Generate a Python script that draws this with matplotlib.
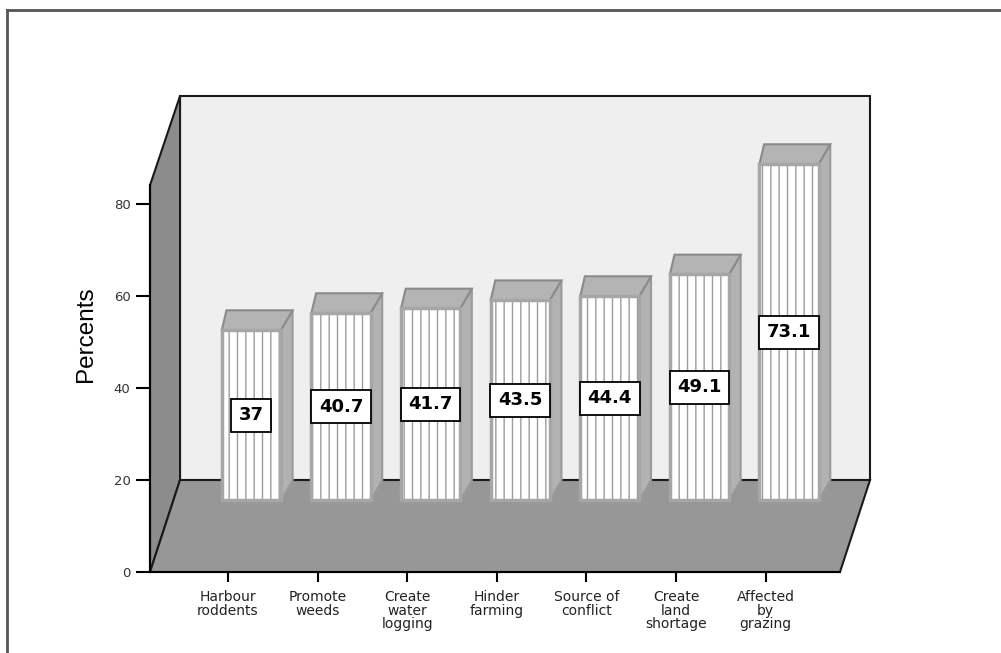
import numpy as np
import matplotlib
matplotlib.use("Agg")
import matplotlib.pyplot as plt
from matplotlib.patches import Polygon, Rectangle
from matplotlib.lines import Line2D

# data
categories = ["Harbour\nroddents", "Promote\nweeds", "Create\nwater\nlogging",
              "Hinder\nfarming", "Source of\nconflict", "Create\nland\nshortage",
              "Affected\nby\ngrazing"]
values = [37, 40.7, 41.7, 43.5, 44.4, 49.1, 73.1]
yticks = [0, 20, 40, 60, 80]

# pseudo 3d geometry (data units)
X_LEFT, X_RIGHT = -0.87, 6.83
Y_TOP = 103.5
WALL_TOP = 84.1
DEPTH_X, DEPTH_Y = 0.335, 20.0
BAR_FRAC = 0.78
BAR_W = 0.66
BAR_DX, BAR_DY = 0.13, 4.3

W, H = 1001, 653
fig = plt.figure(figsize=(W / 100, H / 100), dpi=100)
ax = fig.add_axes([150 / W, (H - 572) / H, 690 / W, 476 / H])
ax.set_xlim(X_LEFT, X_RIGHT)
ax.set_ylim(0, Y_TOP)
ax.patch.set_visible(False)

edge = '#1a1a1a'

# back wall
ax.add_patch(Rectangle((X_LEFT + DEPTH_X, DEPTH_Y), X_RIGHT - X_LEFT, Y_TOP - DEPTH_Y,
                       facecolor='#efefef', edgecolor=edge, lw=1.5, clip_on=False, zorder=1))
# left wall
ax.add_patch(Polygon([(X_LEFT, 0), (X_LEFT + DEPTH_X, DEPTH_Y), (X_LEFT + DEPTH_X, Y_TOP),
                      (X_LEFT, WALL_TOP)],
                     facecolor='#8c8c8c', edgecolor=edge, lw=1.5, clip_on=False, zorder=2))
# floor
ax.add_patch(Polygon([(X_LEFT, 0), (X_RIGHT, 0), (X_RIGHT + DEPTH_X, DEPTH_Y),
                      (X_LEFT + DEPTH_X, DEPTH_Y)],
                     facecolor='#979797', edgecolor=edge, lw=1.5, clip_on=False, zorder=2))

plt.rcParams['hatch.linewidth'] = 1.0
base = BAR_FRAC * DEPTH_Y
shift = BAR_FRAC * DEPTH_X
for i, v in enumerate(values):
    x0 = i + shift - BAR_W / 2
    x1 = x0 + BAR_W
    top = base + v
    # side and top faces
    ax.add_patch(Polygon([(x1, base), (x1 + BAR_DX, base + BAR_DY), (x1 + BAR_DX, top + BAR_DY),
                          (x1, top)], facecolor='#b2b2b2', edgecolor='#9a9a9a', lw=1.5,
                         clip_on=False, zorder=3))
    ax.add_patch(Polygon([(x0, top), (x0 + BAR_DX * 0.4, top + BAR_DY), (x1 + BAR_DX, top + BAR_DY),
                          (x1, top)], facecolor='#b4b4b4', edgecolor='#8a8a8a', lw=1.5,
                         clip_on=False, zorder=3))
    # front face with vertical stripes
    ax.add_patch(Rectangle((x0, base), BAR_W, v, facecolor='white', edgecolor='#9c9c9c',
                           hatch='||', lw=0, clip_on=False, zorder=4))
    ax.add_patch(Rectangle((x0, base), BAR_W, v, facecolor='none', edgecolor='#a6a6a6',
                           lw=2.5, clip_on=False, zorder=5))
    ax.text(i + shift, base + v / 2, f"{v:g}", ha='center', va='center', fontsize=13,
            fontweight='bold', family='DejaVu Sans', zorder=6,
            bbox=dict(boxstyle='square,pad=0.42', facecolor='white', edgecolor='black', lw=1.3))

# axes styling
for s in ['top', 'right']:
    ax.spines[s].set_visible(False)
ax.spines['left'].set_bounds(0, WALL_TOP)
ax.spines['left'].set_linewidth(1.5)
ax.spines['bottom'].set_linewidth(1.5)
ax.spines['left'].set_zorder(7)
ax.spines['bottom'].set_zorder(7)
ax.set_yticks(yticks)
ax.tick_params(axis='y', length=10, width=1.5, pad=4, labelsize=9.5, labelcolor='#333333')
ax.set_xticks(range(len(categories)))
ax.set_xticklabels(categories, fontsize=10, linespacing=0.95, color='#222222')
ax.tick_params(axis='x', length=7, width=1.5, pad=6)
ax.set_ylabel('Percents', fontsize=17.5, family='Liberation Sans', labelpad=12)

# outer frame
fig.add_artist(Line2D([7 / W, 7 / W], [0, 1 - 10 / H], color='#555555', lw=2))
fig.add_artist(Line2D([7 / W, 1], [1 - 10 / H, 1 - 10 / H], color='#555555', lw=2))

fig.savefig('out.png', dpi=100)
